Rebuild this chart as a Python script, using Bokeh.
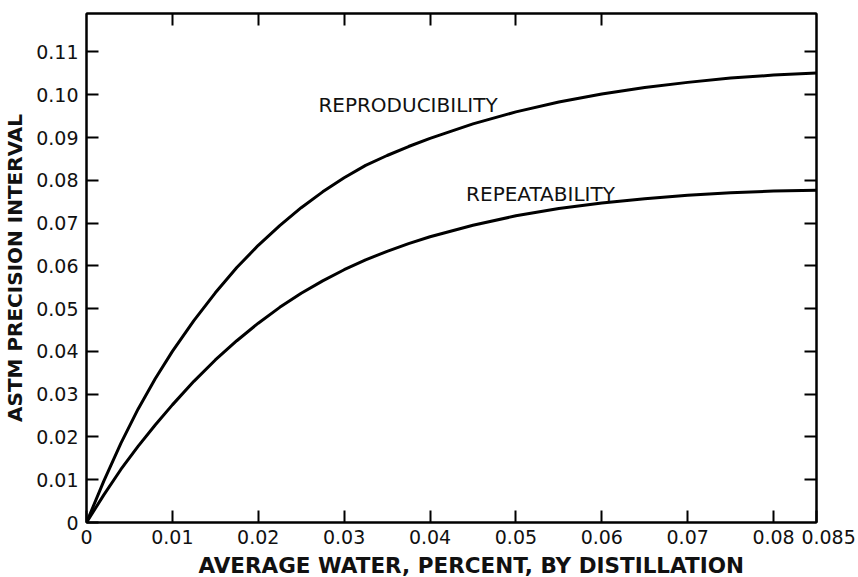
from bokeh.plotting import figure
from bokeh.models import LinearAxis, FixedTicker, Range1d, Title
from bokeh.core.properties import value
from bokeh.embed import file_html
from bokeh.resources import INLINE

# ---- data ----
curve_x = [0, 0.002, 0.004, 0.006, 0.008, 0.010, 0.0125, 0.015, 0.0175, 0.020,
           0.0225, 0.025, 0.0275, 0.030, 0.0325, 0.035, 0.0375, 0.040, 0.045,
           0.050, 0.055, 0.060, 0.065, 0.070, 0.075, 0.080, 0.085]
repro_y = [0, 0.0096, 0.0185, 0.0265, 0.0336, 0.0400, 0.0472, 0.0537, 0.0596, 0.0648,
           0.0694, 0.0736, 0.0773, 0.0806, 0.0835, 0.0858, 0.0879, 0.0898, 0.0932,
           0.0960, 0.0983, 0.1002, 0.1017, 0.1029, 0.1039, 0.1046, 0.1051]
repeat_y = [0, 0.0064, 0.0124, 0.0178, 0.0228, 0.0275, 0.0330, 0.0380, 0.0425, 0.0466,
            0.0503, 0.0536, 0.0565, 0.0591, 0.0614, 0.0634, 0.0652, 0.0668, 0.0695,
            0.0717, 0.0734, 0.0747, 0.0757, 0.0765, 0.0771, 0.0775, 0.0777]

x_ticks = [0, 0.01, 0.02, 0.03, 0.04, 0.05, 0.06, 0.07, 0.08, 0.085]
x_tick_labels = ["0", "0.01", "0.02", "0.03", "0.04", "0.05", "0.06", "0.07", "0.08",
                 "\u00a0\u00a0\u00a0\u00a00.085"]
top_ticks = [0.01, 0.02, 0.03, 0.04, 0.05, 0.06]
y_ticks = [0, 0.01, 0.02, 0.03, 0.04, 0.05, 0.06, 0.07, 0.08, 0.09, 0.10, 0.11]
y_tick_labels = ["0", "0.01", "0.02", "0.03", "0.04", "0.05", "0.06", "0.07", "0.08",
                 "0.09", "0.10", "0.11"]

curve_labels = ["REPRODUCIBILITY", "REPEATABILITY"]
curve_label_x = [0.0270, 0.0442]
curve_label_y = [0.0977, 0.0767]

x_title = "AVERAGE WATER, PERCENT, BY DISTILLATION"
y_title = "ASTM PRECISION INTERVAL"

FONT = "DejaVu Sans"
TICK_SIZE = "19px"
INK = "#111111"

p = figure(width=858, height=577, output_backend="svg", toolbar_location=None,
           x_range=Range1d(0, 0.085), y_range=Range1d(0, 0.119),
           min_border_left=86, min_border_right=42, min_border_top=13,
           min_border_bottom=0, x_axis_location=None, y_axis_location=None)
p.grid.visible = False
p.background_fill_color = "white"
p.border_fill_color = "white"
p.outline_line_color = "black"
p.outline_line_width = 2


def style(ax, labels=True):
    ax.axis_line_width = 2
    ax.axis_line_color = "black"
    ax.major_tick_line_width = 2
    ax.major_tick_line_color = "black"
    ax.major_tick_in = 12
    ax.major_tick_out = 0
    ax.minor_tick_line_color = None
    if labels:
        ax.major_label_text_font = FONT
        ax.major_label_text_font_size = TICK_SIZE
        ax.major_label_text_color = INK
    else:
        ax.major_label_text_font_size = "0px"
        ax.major_label_text_color = None
        ax.major_label_standoff = 0


bottom = LinearAxis(ticker=FixedTicker(ticks=x_ticks),
                    major_label_overrides=dict(zip(x_ticks, x_tick_labels)))
style(bottom)
bottom.major_label_standoff = 3
p.add_layout(bottom, "below")

xt = Title(text=x_title, align="left", offset=112, standoff=0,
           text_font=FONT, text_font_style="bold", text_font_size="21.5px",
           text_color=INK)
p.add_layout(xt, "below")

left = LinearAxis(ticker=FixedTicker(ticks=y_ticks),
                  major_label_overrides=dict(zip(y_ticks, y_tick_labels)))
style(left)
left.major_label_standoff = 8
left.axis_label = y_title
left.axis_label_text_font = FONT
left.axis_label_text_font_style = "bold"
left.axis_label_text_font_size = "20px"
left.axis_label_text_color = INK
left.axis_label_standoff = 6
p.add_layout(left, "left")

top = LinearAxis(ticker=FixedTicker(ticks=top_ticks))
style(top, labels=False)
p.add_layout(top, "above")

right = LinearAxis(ticker=FixedTicker(ticks=y_ticks[1:]))
style(right, labels=False)
p.add_layout(right, "right")

p.line(curve_x, repro_y, line_color="black", line_width=3, line_join="round")
p.line(curve_x, repeat_y, line_color="black", line_width=3, line_join="round")

p.text(x=curve_label_x, y=curve_label_y, text=curve_labels,
       text_font=value(FONT), text_font_size="20px", text_color=INK,
       text_align="left", text_baseline="alphabetic")

open("out.html", "w").write(file_html(p, INLINE))
